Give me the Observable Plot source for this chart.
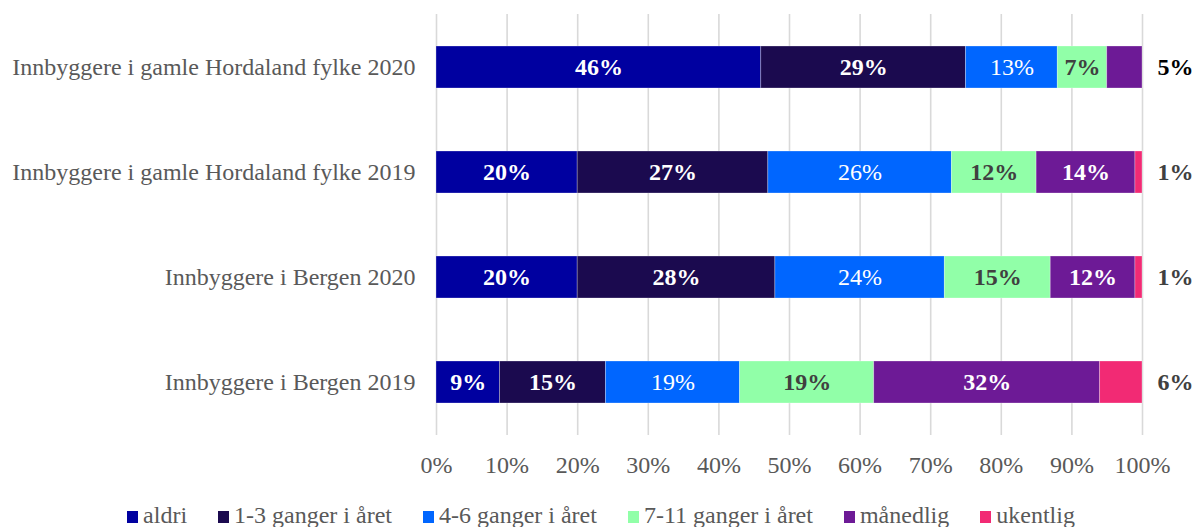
<!DOCTYPE html>
<html>
<head>
<meta charset="utf-8">
<script src="https://cdn.jsdelivr.net/npm/d3@7"></script>
<script src="https://cdn.jsdelivr.net/npm/@observablehq/plot@0.6"></script>
<style>
  body { margin: 0; background: white; font-family: "Liberation Serif", "Times New Roman", serif; }
  #wrap { position: relative; width: 1202px; height: 527px; }
  #legend { position: absolute; left: 0; top: 501px; width: 1202px; height: 28px;
    display: flex; justify-content: center; align-items: center; gap: 31px;
    font-size: 24px; color: #595959; }
  #legend .item { display: flex; align-items: center; white-space: nowrap; }
  #legend .sw { display: inline-block; width: 11px; height: 12px; margin-right: 5px; margin-top: 3px; }
</style>
</head>
<body>
<div id="wrap"><div id="chart"></div><div id="legend"></div></div>
<script>
const categories = [
  "Innbyggere i gamle Hordaland fylke 2020",
  "Innbyggere i gamle Hordaland fylke 2019",
  "Innbyggere i Bergen 2020",
  "Innbyggere i Bergen 2019"
];
const seriesNames = ["aldri", "1-3 ganger i året", "4-6 ganger i året", "7-11 ganger i året", "månedlig", "ukentlig"];
const aldri     = [46, 20, 20, 9];
const ganger13  = [29, 27, 28, 15];
const ganger46  = [13, 26, 24, 19];
const ganger711 = [7, 12, 15, 19];
const maanedlig = [5, 14, 12, 32];
const ukentlig  = [0, 1, 1, 6];
const tickValues = [0, 10, 20, 30, 40, 50, 60, 70, 80, 90, 100];
const colors = ["#0000A0", "#1B0A4F", "#0066FF", "#91FFA8", "#6D1A96", "#F22A74"];

const seriesValues = [aldri, ganger13, ganger46, ganger711, maanedlig, ukentlig];
const rows = [];
categories.forEach((c, i) => {
  let last = -1;
  seriesValues.forEach((vals, j) => { if (vals[i] > 0) last = j; });
  seriesValues.forEach((vals, j) => {
    if (vals[i] > 0) rows.push({category: c, series: seriesNames[j], value: vals[i], outside: j === last});
  });
});

const font = "'Liberation Serif', 'Times New Roman', serif";
const fs = 24;

const labelGroups = [
  {set: new Set(["aldri", "1-3 ganger i året", "månedlig"]), fill: "white", fontWeight: "bold"},
  {set: new Set(["4-6 ganger i året"]), fill: "white", fontWeight: "normal"},
  {set: new Set(["7-11 ganger i året"]), fill: "#404040", fontWeight: "bold"}
];

const marks = [
  Plot.gridX(tickValues, {stroke: "#d9d9d9", strokeOpacity: 1, strokeWidth: 1.6}),
  Plot.barX(rows, Plot.stackX({x: "value", y: "category", fill: "series", z: "series", order: seriesNames,
    stroke: "white", strokeOpacity: 0.35, strokeWidth: 0.8})),
  ...labelGroups.map(g => Plot.text(rows, Plot.stackX({
    x: "value", y: "category", z: "series", order: seriesNames,
    text: d => (g.set.has(d.series) && !d.outside) ? d.value + "%" : null,
    fill: g.fill, fontWeight: g.fontWeight, fontSize: fs, fontFamily: font
  }))),
  Plot.text(rows.filter(d => d.outside), {
    x: () => 100, y: "category", dx: 15, textAnchor: "start",
    text: d => d.value + "%",
    fill: d => d.series === "månedlig" ? "#000000" : "#404040",
    fontWeight: "bold", fontSize: fs, fontFamily: font
  }),
  Plot.axisX(tickValues, {tickSize: 0, tickPadding: 20, tickFormat: d => d + "%", fill: "#595959", fontSize: fs, fontFamily: font, label: null}),
  Plot.axisY(categories, {tickSize: 0, tickPadding: 21, fill: "#595959", fontSize: fs, fontFamily: font, label: null})
];

const chart = Plot.plot({
  width: 1202,
  height: 495,
  marginLeft: 436,
  marginRight: 60,
  marginTop: 14,
  marginBottom: 60,
  style: {fontFamily: font, fontSize: fs + "px", background: "white"},
  x: {domain: [0, 100]},
  y: {domain: categories, paddingInner: 0.6, paddingOuter: 0.3},
  color: {domain: seriesNames, range: colors},
  marks
});
document.getElementById("chart").appendChild(chart);

const legend = document.getElementById("legend");
seriesNames.forEach((s, i) => {
  const item = document.createElement("div");
  item.className = "item";
  const sw = document.createElement("span");
  sw.className = "sw";
  sw.style.background = colors[i];
  const t = document.createElement("span");
  t.textContent = s;
  item.appendChild(sw);
  item.appendChild(t);
  legend.appendChild(item);
});
</script>
</body>
</html>
